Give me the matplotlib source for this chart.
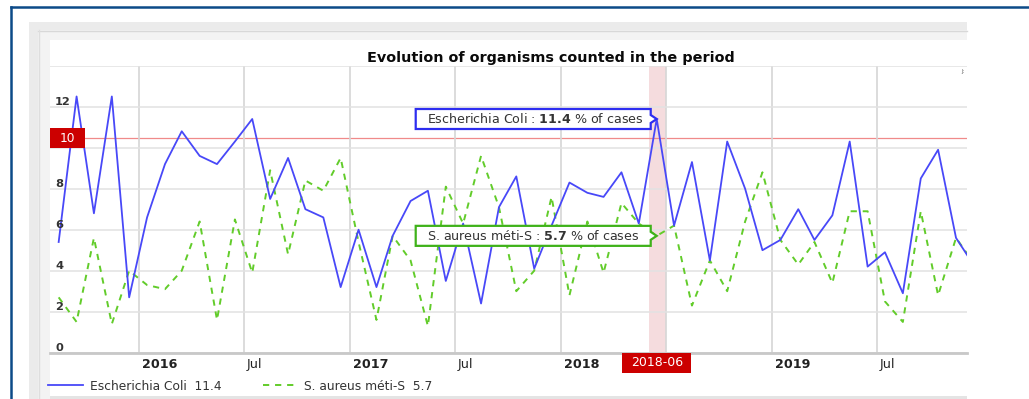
import numpy as np
import matplotlib
matplotlib.use("Agg")
import matplotlib.pyplot as plt
import matplotlib.dates as mdates
from matplotlib.patches import Rectangle, Polygon
from matplotlib.transforms import ScaledTranslation, blended_transform_factory

# monthly share of cases (%) per organism, Aug 2015 -> Dec 2019
months = np.arange('2015-08', '2020-01', dtype='datetime64[M]')
ecoli = [5.4, 12.5, 6.8, 12.5, 2.7, 6.6, 9.2, 10.8, 9.6, 9.2, 10.3, 11.4,
         7.5, 9.5, 7.0, 6.6, 3.2, 6.0, 3.2, 5.7, 7.4, 7.9, 3.5, 6.3,
         2.4, 7.1, 8.6, 4.1, 6.2, 8.3, 7.8, 7.6, 8.8, 6.3, 11.4, 6.2,
         9.3, 4.5, 10.3, 8.0, 5.0, 5.5, 7.0, 5.5, 6.7, 10.3, 4.2, 4.9,
         2.9, 8.5, 9.9, 5.6, 4.3]
saureus = [2.7, 1.5, 5.6, 1.4, 4.0, 3.3, 3.1, 4.0, 6.4, 1.6, 6.5, 3.9,
           8.9, 4.8, 8.4, 7.9, 9.5, 5.4, 1.6, 5.7, 4.5, 1.3, 8.1, 6.3,
           9.6, 7.1, 3.0, 4.0, 7.6, 2.8, 6.4, 3.9, 7.3, 6.3, 5.7, 6.2,
           2.3, 4.5, 3.0, 6.4, 8.8, 5.5, 4.3, 5.4, 3.4, 6.9, 6.9, 2.5,
           1.5, 6.9, 2.8, 5.6, 4.4]
series_names = ['Escherichia Coli', 'S. aureus méti-S']
threshold = 10.45
hover_month = np.datetime64('2018-06')
x_ticks = ['2016-01', '2016-07', '2017-01', '2017-07', '2018-01',
           '2018-07', '2019-01', '2019-07']

BLUE = '#4848F8'
GREEN = '#62CC2A'
RED = '#CC0000'
W, H = 1029, 399

fig = plt.figure(figsize=(W / 100, H / 100), dpi=100)
fig.patch.set_facecolor('white')

# page frame and panels, in pixel units
bg = fig.add_axes([0, 0, 1, 1], zorder=0)
bg.set_xlim(0, W)
bg.set_ylim(H, 0)
bg.axis('off')
bg.add_patch(Rectangle((29, 22), 938, 380, color='#EBEBEB', lw=0))
bg.add_patch(Rectangle((38, 30), 929, 370, color='#F3F3F3', lw=0))
bg.plot([38, 967], [30.5, 30.5], color='#D8D8D8', lw=1)
bg.plot([38.5, 38.5], [30, 399], color='#DEDEDE', lw=1)
bg.add_patch(Rectangle((50, 40), 917, 356, color='white', lw=0))
bg.add_patch(Rectangle((50, 396), 917, 4, color='#E4E4E4', lw=0))
bg.plot([10.5, W], [6.5, 6.5], color='#0C4A88', lw=1.8)
bg.plot([10.5, 10.5], [6.5, H], color='#0C4A88', lw=1.8)

# plot area
x0, x1 = 50, 967
y_top, y_bot = 65.7, 352.7
ax = fig.add_axes([x0 / W, 1 - y_bot / H, (x1 - x0) / W, (y_bot - y_top) / H], zorder=1)
ax.set_facecolor('none')

dates = months.astype('datetime64[D]') + 14
tick_dates = np.array(x_ticks, dtype='datetime64[M]').astype('datetime64[D]')
hover_start = hover_month.astype('datetime64[D]')
hover_end = (hover_month + 1).astype('datetime64[D]')

ax.axvspan(hover_start, hover_end, color='#F5DCDE', lw=0, zorder=0)
l1, = ax.plot(dates, ecoli, color=BLUE, lw=1.3, zorder=3)
l2, = ax.plot(dates, saureus, color=GREEN, lw=1.4, ls=(0, (3.2, 3)), zorder=2)
ax.axhline(threshold, color='#F08A8A', lw=0.9, zorder=1)

ax.set_xlim(np.datetime64('2015-07-31'), np.datetime64('2019-12-04'))
ax.set_ylim(0, 14)
ax.set_yticks(range(0, 15, 2))
ax.set_xticks(tick_dates)
ax.grid(axis='y', color='#E2E2E2', lw=1.1, zorder=0)
ax.grid(axis='x', color='#D6D6D6', lw=1.2, zorder=0)
ax.tick_params(length=0, labelbottom=False, labelleft=False)
for side in ['top', 'left', 'right']:
    ax.spines[side].set_visible(False)
ax.spines['bottom'].set_color('#C8C8C8')
ax.spines['bottom'].set_linewidth(2)

# y labels sit inside the plot, just above their grid line
# (the one under the threshold label is hidden by it)
ylab_tr = blended_transform_factory(ax.transAxes, ax.transData) + ScaledTranslation(5 / 100, 1.5 / 100, fig.dpi_scale_trans)
for v in range(0, 14, 2):
    if abs(v - threshold) < 1:
        continue
    ax.text(0, v, str(v), transform=ylab_tr, ha='left', va='baseline',
            fontsize=8.2, fontweight='bold', color='#333333')

# x labels left-aligned next to their grid line, except the one under the crosshair label
xlab_tr = blended_transform_factory(ax.transData, ax.transAxes) + ScaledTranslation(3 / 100, -11.5 / 100, fig.dpi_scale_trans)
for d, s in zip(tick_dates, x_ticks):
    if hover_start <= d <= hover_end:
        continue
    year, mon = s.split('-')
    label = year if mon == '01' else 'Jul'
    ax.text(d, 0, label, transform=xlab_tr, ha='left', va='center',
            fontsize=9.2, fontweight='bold' if mon == '01' else 'normal', color='#222222')

fig.text(551 / W, 1 - 58 / H, 'Evolution of organisms counted in the period',
         ha='center', va='center', fontsize=10.4, fontweight='bold', color='#0A0A0A')

# overlay for plot-line labels and tooltips
ov = fig.add_axes([0, 0, 1, 1], zorder=3)
ov.set_xlim(0, W)
ov.set_ylim(H, 0)
ov.axis('off')
ov.patch.set_alpha(0)


def to_pix(x, y):
    disp = ax.transData.transform((x, y))
    return ov.transData.inverted().transform(disp)


_, ty = to_pix(mdates.date2num(dates[0]), threshold)
ov.add_patch(Rectangle((x0, ty - 10), 35, 20, color=RED, lw=0))
ov.text(x0 + 17.5, ty, f'{int(threshold)}', color='white', ha='center', va='center', fontsize=8.8)

hi = int(np.where(months == hover_month)[0][0])
hx = mdates.date2num(dates[hi])
px, _ = to_pix(hx, 0)
ov.add_patch(Rectangle((px - 34.5, y_bot), 69, 20, color=RED, lw=0))
ov.text(px, y_bot + 10, str(hover_month), color='white', ha='center', va='center', fontsize=9)


def tooltip(y, name, color):
    tx, ty = to_pix(hx, y)
    right, left = tx - 6, tx - 241
    pts = [(left, ty + 10), (left, ty - 10), (right, ty - 10), (right, ty - 4),
           (tx, ty), (right, ty + 4), (right, ty + 10)]
    ov.add_patch(Polygon(pts, closed=True, facecolor='white', edgecolor=color, lw=1.6, joinstyle='miter'))
    ov.text(left + 11, ty, f'{name} : $\\mathbf{{{y:.1f}}}$ % of cases',
            ha='left', va='center', fontsize=9.1, color='#333333')


tooltip(ecoli[hi], series_names[0], '#2D2DF0')
tooltip(saureus[hi], series_names[1], '#3FB21A')

ov.text(961, 72, 'J:', fontsize=4, color='#666666', va='center')

fig.legend(handles=[l1, l2],
           labels=[f'{series_names[0]}  {ecoli[hi]:.1f}', f'{series_names[1]}  {saureus[hi]:.1f}'],
           loc='center left', bbox_to_anchor=(48 / W, 1 - 386 / H), ncol=2, frameon=False,
           fontsize=8.8, handlelength=2.9, handletextpad=0.5, columnspacing=3.4,
           borderaxespad=0, borderpad=0, labelcolor='#333333')

fig.savefig('out.png', dpi=100)
